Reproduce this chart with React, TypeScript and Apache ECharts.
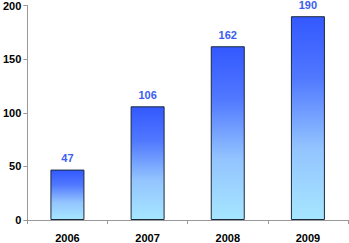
import React, { useEffect, useRef } from "react";
import * as echarts from "echarts";

const categories = ["2006", "2007", "2008", "2009"];
const values = [47, 106, 162, 190];
const yTicks = [0, 50, 100, 150, 200];

export default function App() {
  const ref = useRef<HTMLDivElement>(null);
  useEffect(() => {
    const chart = echarts.init(ref.current!, null, { renderer: "svg" });
    chart.setOption({
      animation: false,
      grid: { left: 26, right: 1, top: 5, bottom: 22, containLabel: false },
      xAxis: {
        type: "category",
        data: categories,
        axisLine: { lineStyle: { color: "#999", width: 1 } },
        axisTick: { show: true, alignWithLabel: false, length: 4, lineStyle: { color: "#999" } },
        axisLabel: { color: "#000", fontWeight: "bold", fontSize: 11, fontFamily: "Arial, Liberation Sans", margin: 12 },
      },
      yAxis: {
        type: "value",
        min: yTicks[0],
        max: yTicks[yTicks.length - 1],
        interval: 50,
        splitLine: { show: false },
        axisLine: { show: true, lineStyle: { color: "#999", width: 1 } },
        axisTick: { show: true, length: 4, lineStyle: { color: "#999" } },
        axisLabel: { color: "#000", fontWeight: "bold", fontSize: 11, fontFamily: "Arial, Liberation Sans", margin: 6 },
      },
      series: [
        {
          type: "bar",
          data: values,
          barWidth: 34,
          itemStyle: {
            borderColor: "#1a2a3a",
            borderWidth: 1,
            color: new echarts.graphic.LinearGradient(0, 0, 0, 1, [
              { offset: 0, color: "#3358ff" },
              { offset: 0.3, color: "#5078ff" },
              { offset: 0.65, color: "#93c4ff" },
              { offset: 1, color: "#a6e6ff" },
            ]),
          },
          label: {
            show: true,
            position: "top",
            distance: 6,
            color: "#3a5ef0",
            fontWeight: "bold",
            fontSize: 11,
            fontFamily: "Arial, Liberation Sans",
          },
        },
      ],
    });
    return () => chart.dispose();
  }, []);
  return <div ref={ref} style={{ width: 349, height: 243, position: "absolute", left: 0, top: 0 }} />;
}
